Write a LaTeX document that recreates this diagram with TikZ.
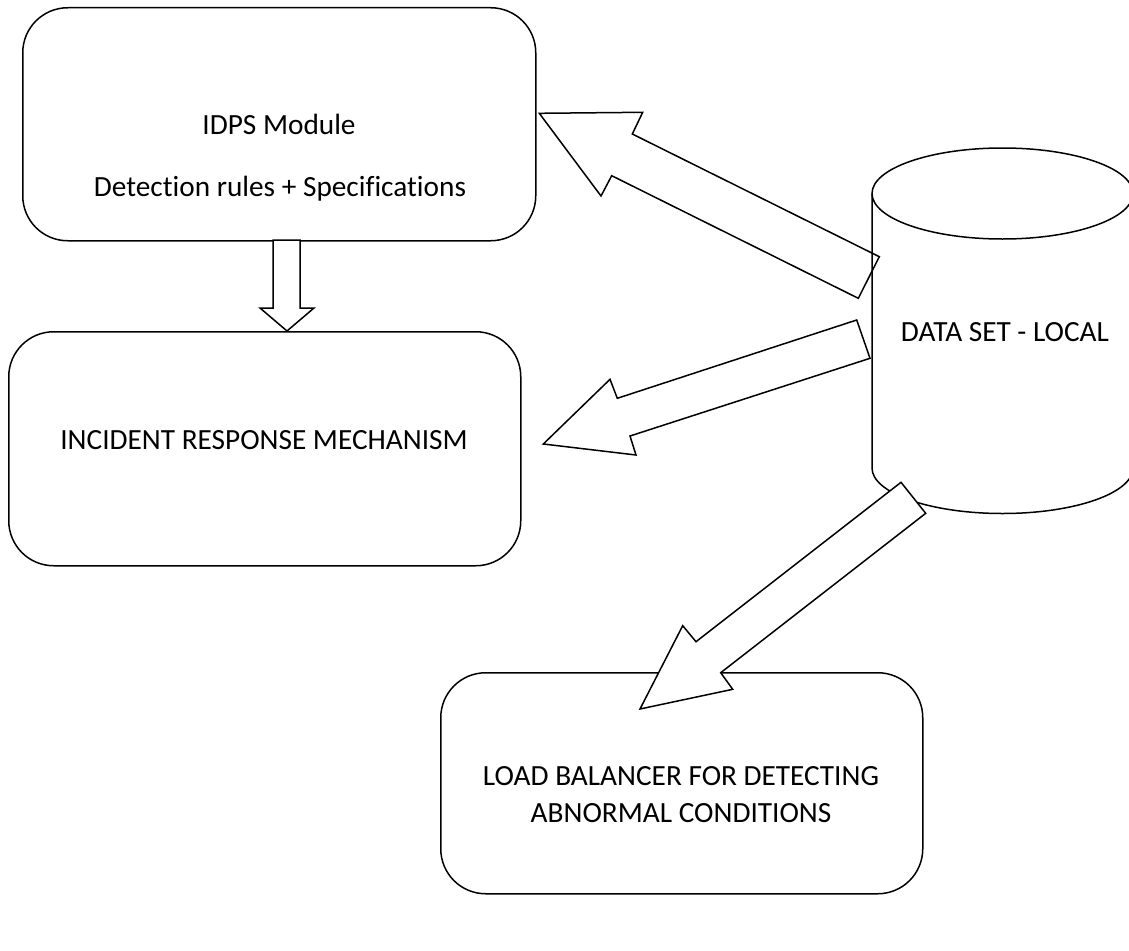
\documentclass[tikz,border=0pt]{standalone}
\usepackage{fontspec}
\setmainfont[Ligatures=NoCommon]{Carlito}
\begin{document}
\begin{tikzpicture}[x=1pt,y=-1pt,
  box/.style={draw, rounded corners=45pt, line width=1.5pt, minimum width=#1, anchor=north west},
  lbl/.style={font=\fontsize{29.3}{35}\selectfont, inner sep=0pt, anchor=base},
  blockarrow/.style={draw, fill=white, line width=1.5pt, line join=miter},
  cyl/.style={draw, line width=1.5pt}]
\useasboundingbox (0,0) rectangle (1129,950);
\clip (0,0) rectangle (1129,950);

% boxes
\node[box=513pt, minimum height=233pt] (idps) at (22,7) {};
\node[box=512pt, minimum height=234pt] (irm) at (8,331) {};
\node[box=482pt, minimum height=221pt] (lb) at (440,672) {};

% labels
\node[lbl] (t1) at (279,134) {IDPS Module};
\node[lbl] (t2) at (280,196) {Detection rules + Specifications};
\node[lbl] (t3) at (264,449) {INCIDENT RESPONSE MECHANISM};
\node[lbl] (t4) at (681,785) {LOAD BALANCER FOR DETECTING};
\node[lbl] (t5) at (681,822) {ABNORMAL CONDITIONS};

% down block arrow
\draw[blockarrow] (273,240) -- (273,308) -- (260,308) -- (287,331) -- (314,308) -- (300,308) -- (300,240) -- cycle;

% block arrows from dataset to IDPS and to incident response
\draw[blockarrow] (879.3,256.7) -- (632.3,134) -- (642.7,112.3) -- (539.3,113.3) -- (601,196) -- (611.7,175.7) -- (858.3,298.3) -- cycle;
\draw[blockarrow] (856.7,320) -- (617.3,398.3) -- (610,379.3) -- (543.3,444) -- (636,455) -- (630,436) -- (870,358.3) -- cycle;

% cylinder (data set)
\coordinate (ctop) at (1002.5,193.5);
\coordinate (cbot) at (1002.5,468);
\draw[cyl] (ctop) ellipse [x radius=130.5pt, y radius=45.5pt];
\draw[cyl] (872,193.5) -- (872,468) arc[start angle=180, end angle=360, x radius=130.5pt, y radius=45.5pt] -- (1133,193.5);
\node[lbl] (ds) at (1005,341) {DATA SET - LOCAL};

% block arrow to load balancer
\draw[blockarrow] (901,482.3) -- (696,641.7) -- (682.7,625.7) -- (640,709) -- (732.7,689.3) -- (720.7,672.7) -- (925.7,513.3) -- cycle;
\end{tikzpicture}
\end{document}
